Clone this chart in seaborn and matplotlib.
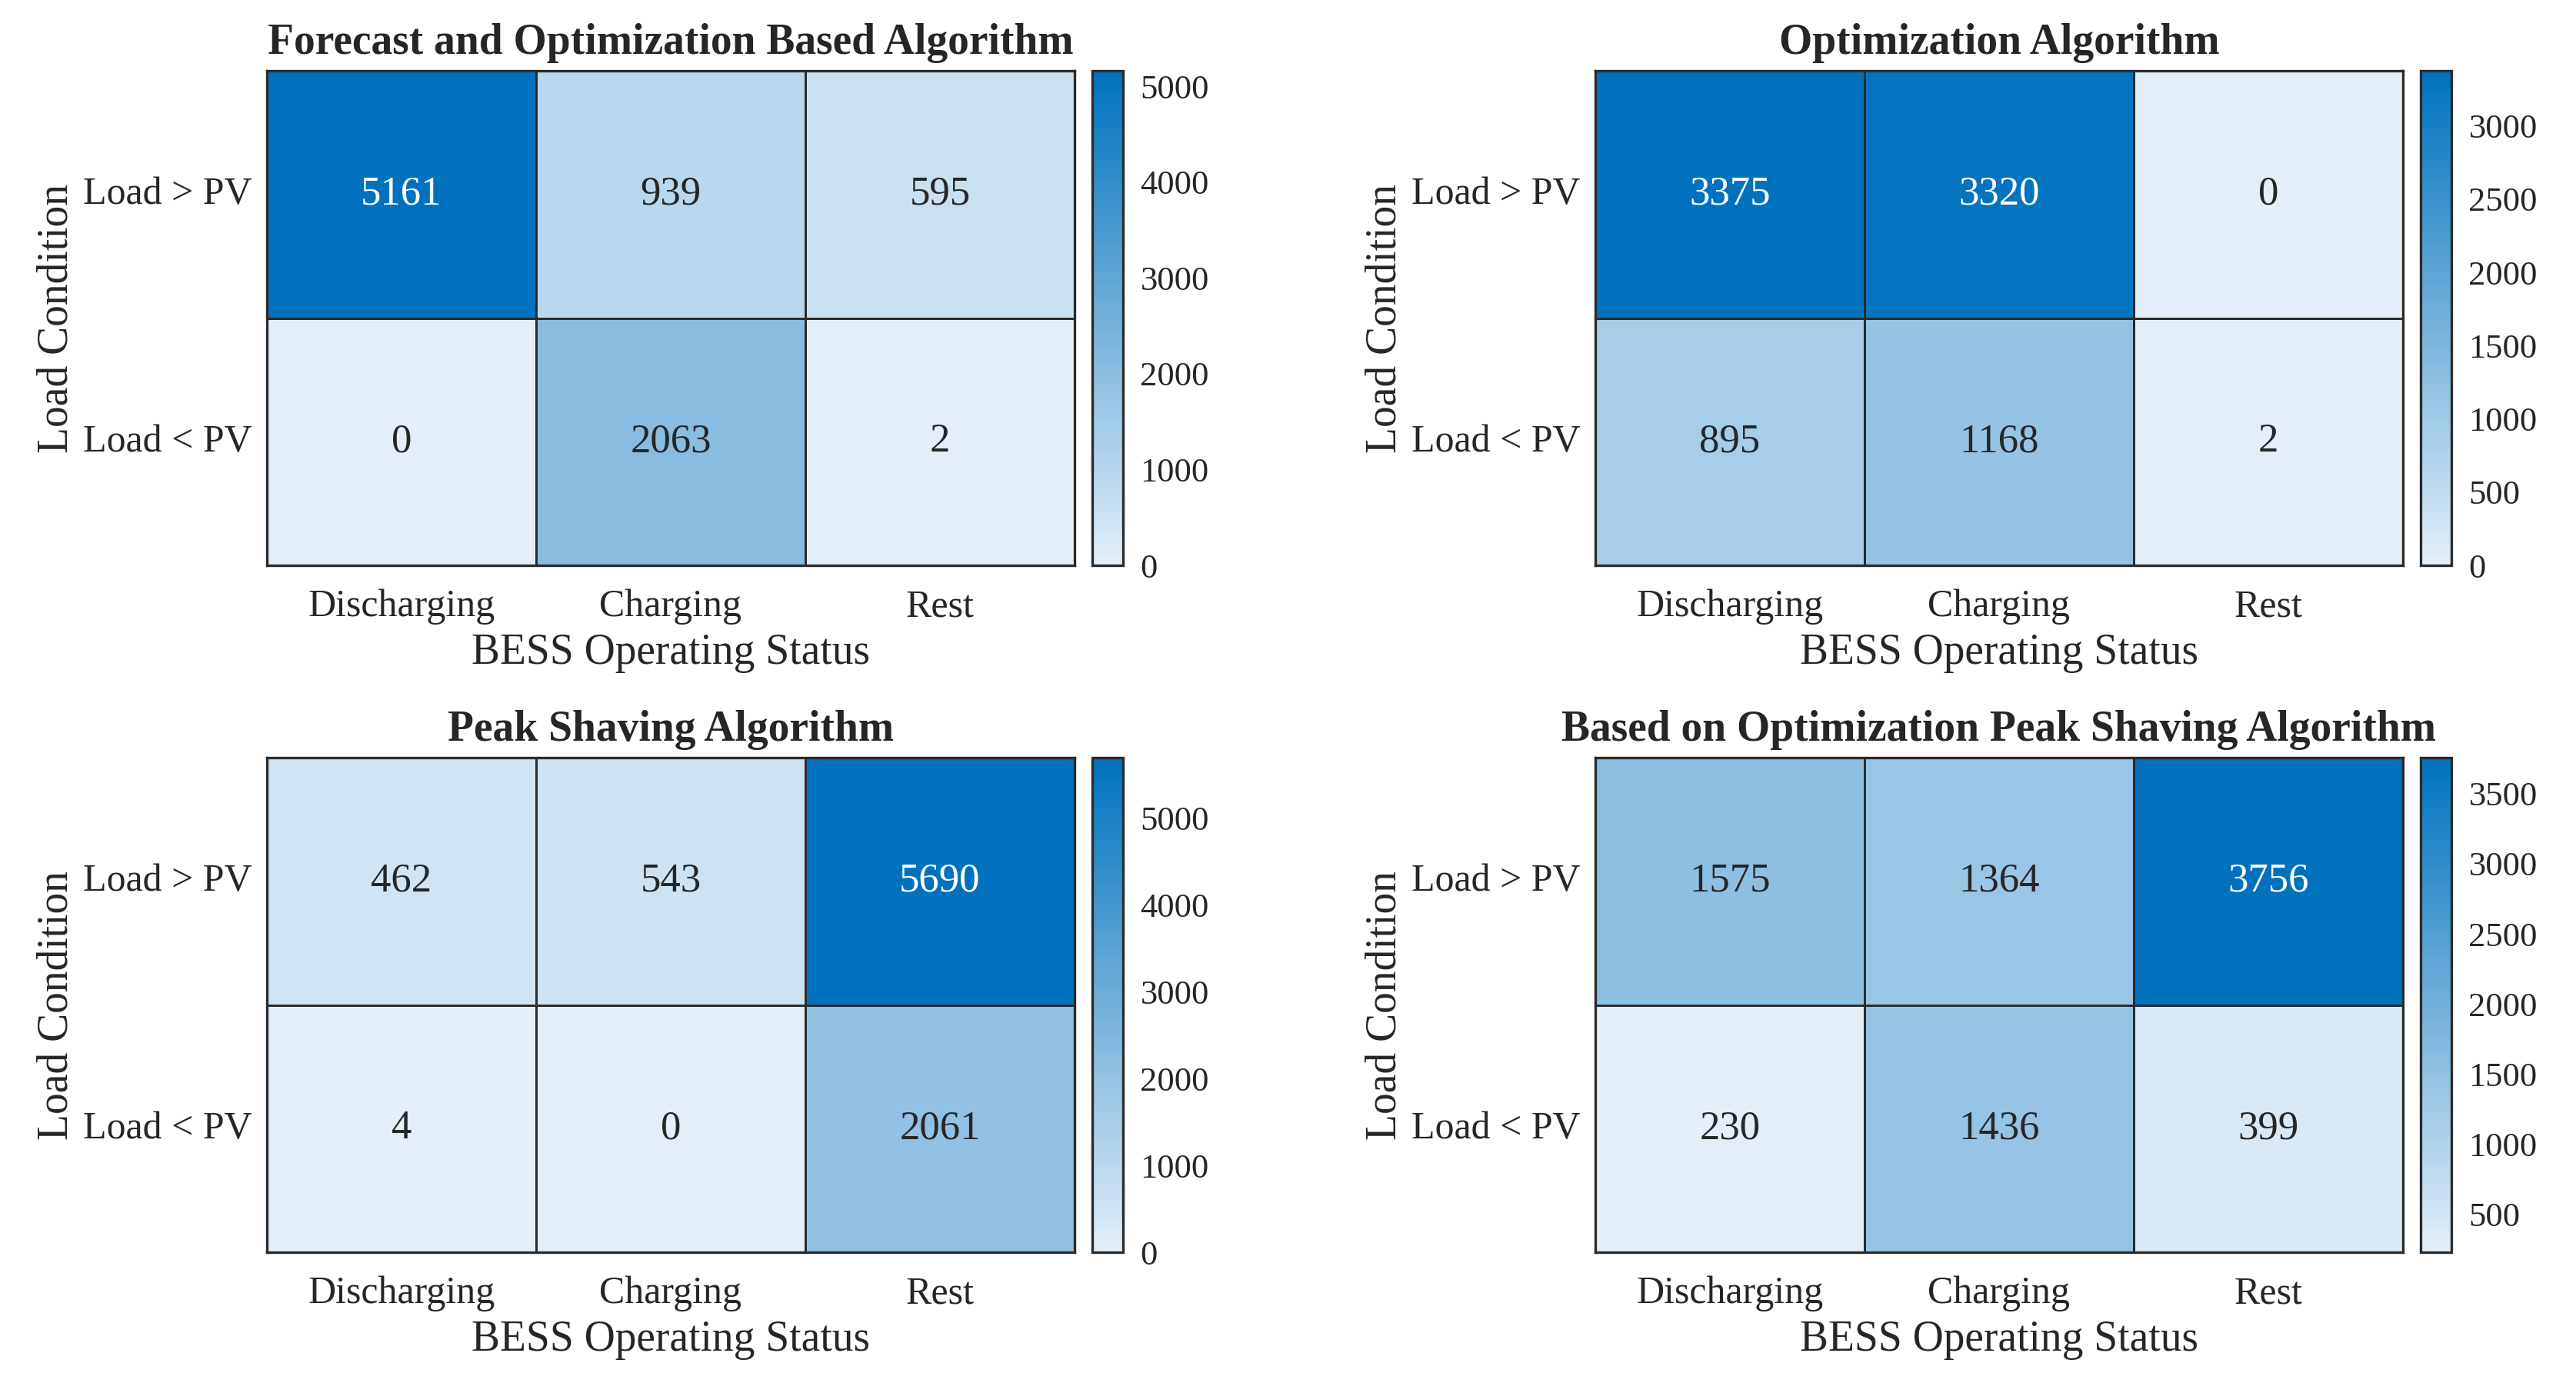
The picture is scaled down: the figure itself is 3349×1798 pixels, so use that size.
import numpy as np
import pandas as pd
import matplotlib
matplotlib.use("Agg")
import matplotlib.pyplot as plt
import seaborn as sns
from matplotlib.colors import LinearSegmentedColormap
from matplotlib.ticker import MultipleLocator

# ---- data ----
status_labels = ["Discharging", "Charging", "Rest"]
load_labels = ["Load > PV", "Load < PV"]

titles = [
    "Forecast and Optimization Based Algorithm",
    "Optimization Algorithm",
    "Peak Shaving Algorithm",
    "Based on Optimization Peak Shaving Algorithm",
]

forecast_opt = [[5161, 939, 595],
                [0, 2063, 2]]
optimization = [[3375, 3320, 0],
                [895, 1168, 2]]
peak_shaving = [[462, 543, 5690],
                [4, 0, 2061]]
opt_peak_shaving = [[1575, 1364, 3756],
                    [230, 1436, 399]]

cbar_steps = [1000, 500, 1000, 500]

sns.set_style("white")
plt.rcParams["font.family"] = ["Liberation Serif", "DejaVu Serif"]
plt.rcParams["mathtext.fontset"] = "stix"

cmap = LinearSegmentedColormap.from_list("matlab_blue", ["#e3eef8", "#0072bd"])
edge = "#2b2b2b"

fig = plt.figure(figsize=(16.745, 8.99), dpi=200)

# lower-left corners of the four heatmap axes (figure fractions)
positions = [
    (0.1036, 0.5912),
    (0.6193, 0.5912),
    (0.1036, 0.0945),
    (0.6193, 0.0945),
]
hm_w, hm_h = 0.3135, 0.3576
cb_gap, cb_w = 0.0070, 0.0119

tables = [forecast_opt, optimization, peak_shaving, opt_peak_shaving]

for (left, bottom), title, table, step in zip(positions, titles, tables, cbar_steps):
    ax = fig.add_axes([left, bottom, hm_w, hm_h])
    cax = fig.add_axes([left + hm_w + cb_gap, bottom, cb_w, hm_h])
    df = pd.DataFrame(table, index=load_labels, columns=status_labels)

    sns.heatmap(df, ax=ax, cbar_ax=cax, cmap=cmap, annot=True, fmt="d",
                linewidths=0.9, linecolor=edge,
                annot_kws={"fontsize": 19})

    for sp in ax.spines.values():
        sp.set_visible(True)
        sp.set_color(edge)
        sp.set_linewidth(1.2)

    ax.set_title(title, fontsize=20, fontweight="bold", pad=8)
    ax.set_xlabel("BESS Operating Status", fontsize=20, labelpad=4)
    ax.set_ylabel("Load Condition", fontsize=20, labelpad=3)
    ax.tick_params(axis="both", length=0, labelsize=18)
    ax.tick_params(axis="x", pad=11)
    ax.tick_params(axis="y", pad=7)
    plt.setp(ax.get_yticklabels(), rotation=0)

    cax.yaxis.set_major_locator(MultipleLocator(step))
    cax.tick_params(direction="in", length=5, width=1.0, color=edge,
                    labelsize=16, pad=8)
    cbar = ax.collections[0].colorbar
    cbar.outline.set_edgecolor(edge)
    cbar.outline.set_linewidth(1.2)

fig.savefig("out.png", dpi=200, facecolor="white")
